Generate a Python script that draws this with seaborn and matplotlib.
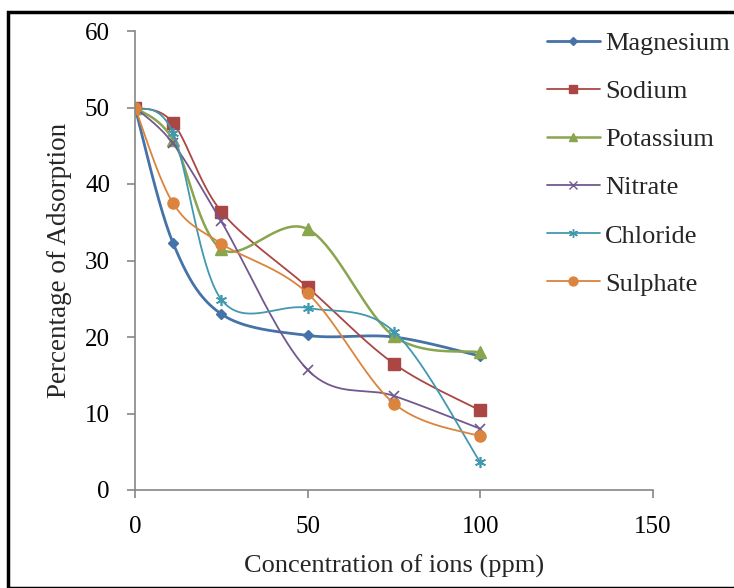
import numpy as np
import pandas as pd
import matplotlib
matplotlib.use("Agg")
import matplotlib.pyplot as plt
from matplotlib.lines import Line2D
from matplotlib.patches import Rectangle
import seaborn as sns

# ---- data ----
concentration = [0, 11, 25, 50, 75, 100]
magnesium = [50, 32.3, 23.0, 20.2, 20.0, 17.5]
sodium = [50, 48.0, 36.4, 26.5, 16.5, 10.4]
potassium = [50, 45.8, 31.5, 34.1, 20.1, 18.0]
nitrate = [50, 45.3, 35.1, 15.7, 12.3, 8.0]
chloride = [50, 46.7, 24.9, 23.8, 20.7, 3.6]
sulphate = [50, 37.5, 32.2, 25.7, 11.3, 7.0]
series_names = ["Magnesium", "Sodium", "Potassium", "Nitrate", "Chloride", "Sulphate"]
series_values = [magnesium, sodium, potassium, nitrate, chloride, sulphate]

colors = ["#4572A7", "#AA4643", "#89A54E", "#71588F", "#4198AF", "#DB843D"]
markers = ["D", "s", "^", "x", (6, 2, 0), "o"]
msizes = [5, 8, 8, 7, 8, 8]
lwidths = [2.0, 1.3, 1.8, 1.3, 1.3, 1.3]


def smooth(xs, ys, n=40):
    """Excel-style smoothed line (Catmull-Rom Bezier) for drawing only."""
    P = np.column_stack([xs, ys]).astype(float)
    m = len(P)
    out = []
    for i in range(m - 1):
        p0 = P[i - 1] if i > 0 else P[i]
        p1 = P[i]
        p2 = P[i + 1]
        p3 = P[i + 2] if i + 2 < m else P[i + 1]
        c1 = p1 + (p2 - p0) / 6.0
        c2 = p2 - (p3 - p1) / 6.0
        t = np.linspace(0, 1, n)[:, None]
        seg = ((1 - t) ** 3) * p1 + 3 * ((1 - t) ** 2) * t * c1 + 3 * (1 - t) * t ** 2 * c2 + t ** 3 * p2
        out.append(seg if i == 0 else seg[1:])
    s = np.vstack(out)
    return s[:, 0], s[:, 1]


sns.set_style("white")
plt.rcParams["font.family"] = ["Liberation Serif", "DejaVu Serif"]

fig = plt.figure(figsize=(7.34, 5.88), dpi=100)
ax = fig.add_axes([135 / 734, 98 / 588, 518 / 734, 459 / 588])

for name, vals, c, mk, ms, lw in zip(series_names, series_values, colors, markers, msizes, lwidths):
    sx, sy = smooth(concentration, vals)
    sns.lineplot(x=sx, y=sy, sort=False, estimator=None, color=c, linewidth=lw, ax=ax, legend=False)
    df = pd.DataFrame({"x": concentration, "y": vals})
    if mk in ("x", (6, 2, 0)):
        ax.plot(df["x"], df["y"], linestyle="none", marker=mk, markersize=ms, color=c,
                markeredgewidth=1.2)
    else:
        ax.plot(df["x"], df["y"], linestyle="none", marker=mk, markersize=ms, color=c,
                markeredgecolor=c)

ax.set_xlim(0, 150)
ax.set_ylim(0, 60)
ax.set_xticks([0, 50, 100, 150])
ax.set_yticks(range(0, 61, 10))
for s in ["top", "right"]:
    ax.spines[s].set_visible(False)
for s in ["left", "bottom"]:
    ax.spines[s].set_color("#868686")
    ax.spines[s].set_linewidth(1.2)
ax.tick_params(axis="both", direction="out", length=6, width=1.2, color="#868686",
               labelsize=18, labelcolor="black")
ax.tick_params(axis="y", pad=12)
ax.tick_params(axis="x", pad=13)
ax.tick_params(left=True, bottom=True)

fig.text(394 / 734, 1 - 566 / 588, "Concentration of ions (ppm)", ha="center", va="center", fontsize=19)
fig.text(60 / 734, 1 - 260 / 588, "Percentage of Adsorption", ha="center", va="center",
         rotation=90, fontsize=19.5)

handles = []
for name, c, mk, ms, lw in zip(series_names, colors, markers, msizes, lwidths):
    if mk in ("x", (6, 2, 0)):
        h = Line2D([], [], color=c, lw=lw, marker=mk, markersize=ms * 0.8, markeredgewidth=1.0)
    else:
        h = Line2D([], [], color=c, lw=lw, marker=mk, markersize=ms * 0.8, markeredgecolor=c)
    handles.append(h)
fig.legend(handles, series_names, loc="upper left", bbox_to_anchor=(547 / 734, 1 - 31.5 / 588),
           frameon=False, fontsize=19, handlelength=2.0, handletextpad=0.2,
           labelspacing=0.935, borderaxespad=0, borderpad=0)

fig.patches.append(Rectangle((8 / 734, 0), 1.0, 1 - 12 / 588, transform=fig.transFigure,
                             fill=False, edgecolor="black", linewidth=2.5, zorder=10))

fig.savefig("out.png", dpi=100)
